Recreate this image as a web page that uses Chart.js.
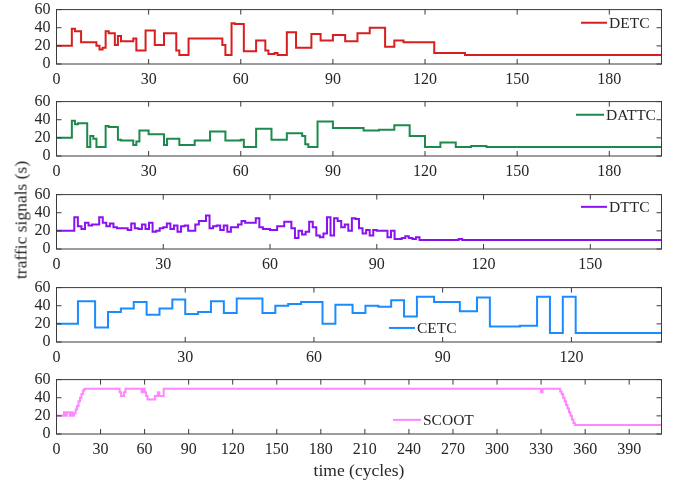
<!DOCTYPE html>
<html>
<head>
<meta charset="utf-8">
<script src="https://cdn.jsdelivr.net/npm/chart.js@4.4.1/dist/chart.umd.min.js"></script>
<style>
  html, body { margin: 0; padding: 0; background: #ffffff; }
  #wrap { position: relative; width: 681px; height: 486px; overflow: hidden; background: #fff; }
  canvas { position: absolute; left: 0; }
  #ylab { position: absolute; left: 21px; top: 220px; transform: translate(-50%, -50%) rotate(-90deg);
          font-family: 'Liberation Serif', 'Times New Roman', serif; font-size: 17.5px; color: #262626; white-space: nowrap; }
</style>
</head>
<body>
<div id="wrap">
  <canvas id="c1"></canvas>
  <canvas id="c2"></canvas>
  <canvas id="c3"></canvas>
  <canvas id="c4"></canvas>
  <canvas id="c5"></canvas>
  <div id="ylab">traffic signals (s)</div>
</div>
<script>
// ---------------- DATA (change points of each step series) ----------------
const detcX  = [0,5,6,8,13,14,15,16,17,19,20,21,25,26,29,32,35,39,40,43,54,55,57,58,61,65,68,69,71,72,75,78,83,86,90,94,98,102,107,110,113,123,133];
const detcY  = [20,39,36,24,20,16,18,36,34,21,31,25,28,15,37,21,34,15,10,28,21,10,45,44,14,26,15,11,12,10,35,18,33,26,32,25,34,40,19,26,24,12,10];

const dattcX = [0,5,6,7,10,11,12,13,16,17,20,21,25,26,27,30,35,36,40,45,50,55,60,61,65,70,75,80,81,82,85,90,100,105,110,115,120,125,130,135,140];
const dattcY = [20,39,35,36,10,22,19,10,33,32,18,17,12,16,28,24,12,19,12,17,27,17,18,10,30,18,25,22,13,10,38,31,28,29,34,22,10,15,10,11,10];

const dttcX  = [0,5,6,7,8,9,10,12,13,14,15,16,17,20,21,22,23,24,25,26,27,28,29,30,31,32,33,34,35,36,37,39,40,42,43,44,45,46,47,48,49,51,52,53,56,57,58,60,62,64,66,67,68,69,70,71,72,73,74,75,76,77,78,79,80,81,82,83,84,85,86,87,88,89,90,93,94,95,97,98,99,100,101,102,113,114];
const dttcY  = [20,35,25,22,29,26,27,35,29,25,28,24,23,21,28,23,22,27,22,29,19,20,23,24,28,22,26,19,25,26,20,27,31,37,23,25,26,21,26,19,24,27,31,29,34,24,22,21,25,30,23,12,20,16,19,30,24,15,13,17,35,15,34,31,24,27,20,34,33,23,17,21,15,21,20,13,20,11,12,14,12,11,13,10,11,10];

const cetcX  = [0,5,9,12,15,18,21,24,27,30,33,36,39,42,48,51,54,57,62,65,69,72,75,78,81,84,88,94,98,101,108,112,115,118,121];
const cetcY  = [20,45,16,33,37,44,30,37,47,31,33,45,32,48,32,40,42,44,20,41,32,40,39,46,28,50,44,34,49,17,18,50,10,50,10];

const scootX = [0,5,6,7,9,10,11,12,13,14,15,16,17,18,19,43,44,46,47,58,59,60,61,62,67,69,70,73,330,331,343,344,345,346,347,348,349,350,351,352,353];
const scootY = [20,24,20,24,20,24,20,23,27,31,36,40,44,48,50,46,42,46,50,46,50,46,42,38,42,46,42,50,46,50,47,44,40,36,32,28,24,20,16,12,10];

// axis extents and tick labels
const xMax1 = 197, xMax2 = 197, xMax3 = 170, xMax4 = 141, xMax5 = 412;
const xTicks1 = [0,30,60,90,120,150,180];
const xTicks2 = [0,30,60,90,120,150,180];
const xTicks3 = [0,30,60,90,120,150];
const xTicks4 = [0,30,60,90,120];
const xTicks5 = [0,30,60,90,120,150,180,210,240,270,300,330,360,390];
const yTicks  = [0,20,40,60];

const names = ['DETC','DATTC','DTTC','CETC','SCOOT'];
const xLabel = 'time (cycles)';

// ---------------- STYLE / LAYOUT ----------------
const FONT = "'Liberation Serif', 'Times New Roman', serif";
const TXT = '#262626';
const panels = [
  { id:'c1', xs:detcX,  ys:detcY,  xmax:xMax1, ticks:xTicks1, color:'#d81e1e', top:6,   lg:{x:581, v:45.5, w:26} },
  { id:'c2', xs:dattcX, ys:dattcY, xmax:xMax2, ticks:xTicks2, color:'#1c8a4c', top:98,  lg:{x:576, v:45.5, w:28} },
  { id:'c3', xs:dttcX,  ys:dttcY,  xmax:xMax3, ticks:xTicks3, color:'#8a12f2', top:191, lg:{x:581, v:46.5, w:26} },
  { id:'c4', xs:cetcX,  ys:cetcY,  xmax:xMax4, ticks:xTicks4, color:'#1a8cff', top:284, lg:{x:389, v:15.5, w:26} },
  { id:'c5', xs:scootX, ys:scootY, xmax:xMax5, ticks:xTicks5, color:'#ff86ff', top:376, lg:{x:393, v:15.6, w:28} }
];
const PAD_TOP = 12, PLOT_H = 58, AXIS_H = 30, AXIS_H_LAST = 50, LEFT = 56.5, RIGHT_PAD = 19.5;

const boxPlugin = {
  id: 'matlabBox',
  afterDraw(chart, args, o) {
    const { ctx, chartArea: a, scales: { x, y } } = chart;
    ctx.save();
    ctx.strokeStyle = '#3a3a3a';
    ctx.lineWidth = 1;
    ctx.strokeRect(a.left, a.top, a.right - a.left, a.bottom - a.top);
    const L = 5;
    ctx.beginPath();
    x.ticks.forEach(t => {
      const px = x.getPixelForValue(t.value);
      ctx.moveTo(px, a.bottom); ctx.lineTo(px, a.bottom - L);
      ctx.moveTo(px, a.top);    ctx.lineTo(px, a.top + L);
    });
    y.ticks.forEach(t => {
      const py = y.getPixelForValue(t.value);
      ctx.moveTo(a.left, py);  ctx.lineTo(a.left + L, py);
      ctx.moveTo(a.right, py); ctx.lineTo(a.right - L, py);
    });
    ctx.stroke();
    // legend entry
    const ly = y.getPixelForValue(o.v);
    ctx.strokeStyle = o.color;
    ctx.lineWidth = 2;
    ctx.beginPath();
    ctx.moveTo(o.x, ly); ctx.lineTo(o.x + o.w, ly);
    ctx.stroke();
    ctx.fillStyle = TXT;
    ctx.font = "15.5px " + FONT;
    ctx.textAlign = 'left';
    ctx.textBaseline = 'middle';
    ctx.fillText(o.label, o.x + o.w + 2, ly + 1);
    ctx.restore();
  }
};

panels.forEach((p, i) => {
  const last = i === panels.length - 1;
  const axisH = last ? AXIS_H_LAST : AXIS_H;
  const h = PAD_TOP + PLOT_H + axisH;
  const cv = document.getElementById(p.id);
  cv.width = 681; cv.height = h;
  cv.style.width = '681px'; cv.style.height = h + 'px';
  cv.style.top = (p.top - PAD_TOP) + 'px';

  const pts = p.xs.map((v, k) => ({ x: v, y: p.ys[k] }));
  pts.push({ x: p.xmax, y: p.ys[p.ys.length - 1] });

  new Chart(cv, {
    type: 'line',
    data: { datasets: [{ label: names[i], data: pts, stepped: true, borderColor: p.color,
                         borderWidth: 2, pointRadius: 0, fill: false, tension: 0 }] },
    options: {
      responsive: false, animation: false, events: [],
      layout: { padding: { top: PAD_TOP, right: RIGHT_PAD, left: 0, bottom: 0 } },
      plugins: {
        legend: { display: false }, tooltip: { enabled: false },
        matlabBox: { label: names[i], color: p.color, x: p.lg.x, v: p.lg.v, w: p.lg.w }
      },
      scales: {
        x: {
          type: 'linear', min: 0, max: p.xmax,
          afterBuildTicks: s => { s.ticks = p.ticks.map(v => ({ value: v })); },
          afterFit: s => { s.height = axisH; },
          grid: { display: false, drawTicks: false }, border: { display: false },
          ticks: { font: { family: FONT, size: 16 }, color: TXT, padding: 6, maxRotation: 0, autoSkip: false },
          title: { display: last, text: xLabel, color: TXT, font: { family: FONT, size: 17.5 }, padding: { top: 2, bottom: 2 } }
        },
        y: {
          min: 0, max: 60,
          afterBuildTicks: s => { s.ticks = yTicks.map(v => ({ value: v })); },
          afterFit: s => { s.width = LEFT; },
          grid: { display: false, drawTicks: false }, border: { display: false },
          ticks: { font: { family: FONT, size: 16 }, color: TXT, padding: 6, autoSkip: false }
        }
      }
    },
    plugins: [boxPlugin]
  });
});
</script>
</body>
</html>
